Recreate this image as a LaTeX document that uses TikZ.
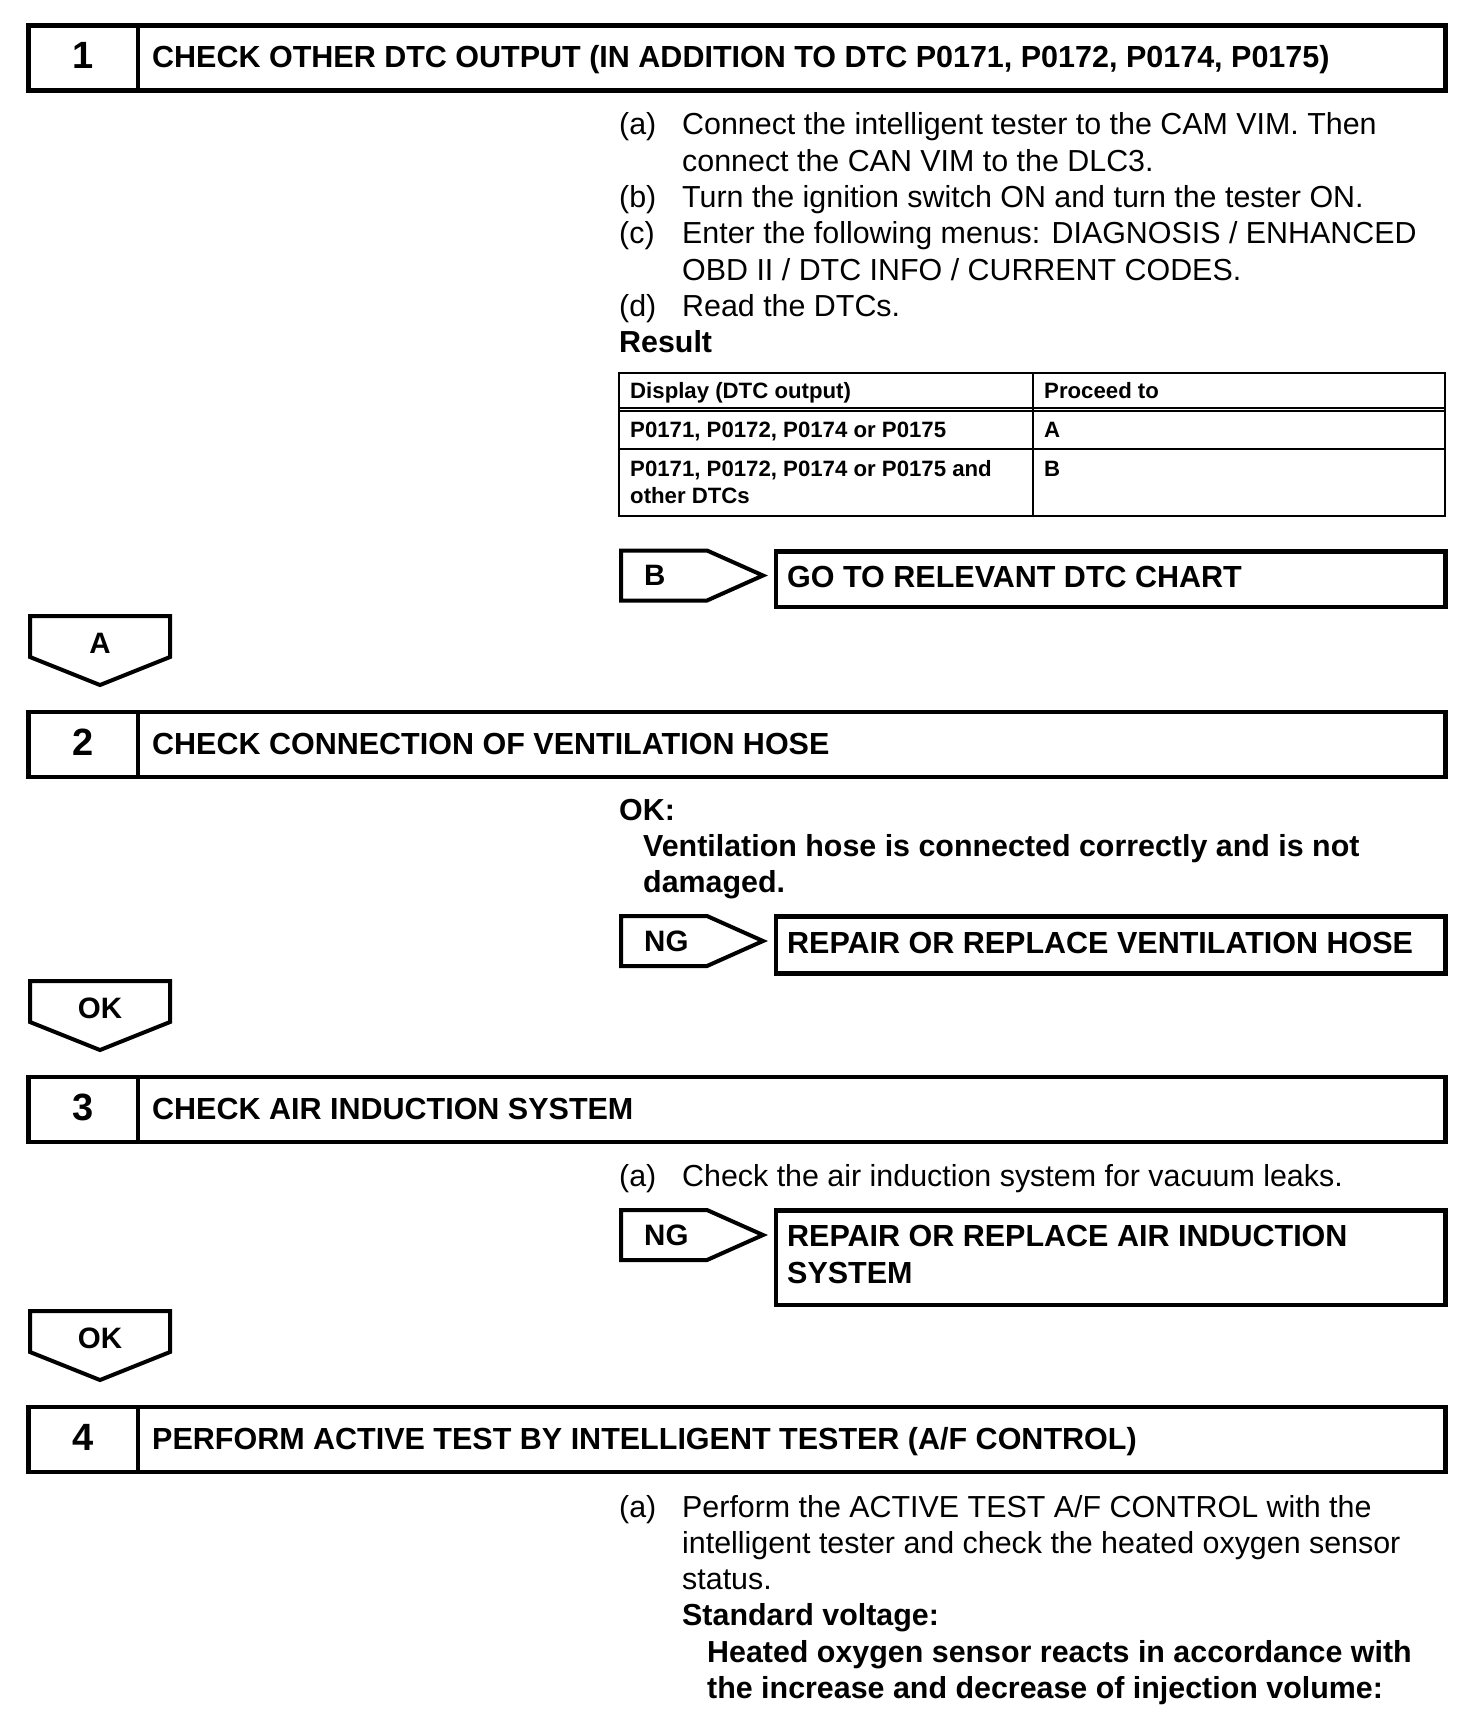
\documentclass[tikz,border=0pt]{standalone}
\usepackage{fontspec}
\setmainfont{Liberation Sans}
\tikzset{
  frame/.style={draw, line width=4.5pt, line join=miter},
  tagshape/.style={draw, line width=4pt, line join=miter},
  tbl/.style={draw, line width=2pt},
  hnum/.style={font=\fontsize{38}{40}\selectfont\bfseries, anchor=base, inner sep=0pt},
  htext/.style={font=\fontsize{30.5}{36}\selectfont\bfseries, anchor=base west, inner sep=0pt},
  body/.style={font=\fontsize{30.4}{36.3}\selectfont, anchor=base west, inner sep=0pt},
  bodyb/.style={font=\fontsize{30.4}{36.3}\selectfont\bfseries, anchor=base west, inner sep=0pt},
  tagtext/.style={font=\fontsize{29.5}{32}\selectfont\bfseries, inner sep=0pt},
  tbltext/.style={font=\fontsize{22.2}{27}\selectfont\bfseries, anchor=base west, inner sep=0pt},
}
\begin{document}
\begin{tikzpicture}[x=1pt,y=-1pt]
\useasboundingbox (0,0) rectangle (1472,1734);
\fill[white] (0,0) rectangle (1472,1734);

% ---------- step headers ----------
\foreach \yy/\nn/\tt in {25.5/1/{CHECK OTHER DTC OUTPUT (IN ADDITION TO DTC P0171, P0172, P0174, P0175)},
                         712/2/{CHECK CONNECTION OF VENTILATION HOSE},
                         1077/3/{CHECK AIR INDUCTION SYSTEM},
                         1407/4/{PERFORM ACTIVE TEST BY INTELLIGENT TESTER (A/F CONTROL)}}{
  \draw[frame] (28.5,\yy) rectangle (1445.5,\yy+65);
  \draw[frame] (138,\yy) -- (138,\yy+65);
  \node[hnum] (num\nn) at (83.25,\yy+43) {\nn};
  \node[htext] (title\nn) at (152,\yy+42) {\tt};
}

% ---------- down tags (A / OK) ----------
\foreach \yy/\ll/\ii in {616/A/1, 981/OK/2, 1311/OK/3}{
  \draw[tagshape] (30,\yy) -- (170,\yy) -- (170,\yy+41) -- (100,\yy+69) -- (30,\yy+41) -- cycle;
  \node[tagtext, anchor=base] (down\ii) at (100,\yy+37.5) {\ll};
}

% ---------- side tags (B / NG) ----------
\foreach \yy/\ll/\ii in {550.5/B/1, 916/NG/2, 1210/NG/3}{
  \draw[tagshape] (621,\yy) -- (707,\yy) -- (763,\yy+25) -- (707,\yy+50) -- (621,\yy+50) -- cycle;
  \node[tagtext, anchor=base west] (side\ii) at (644,\yy+35) {\ll};
}

% ---------- result boxes ----------
\draw[frame] (776,551.5) rectangle (1445.5,607);
\node[htext] (res1) at (787,587) {GO TO RELEVANT DTC CHART};
\draw[frame] (776,916.5) rectangle (1445.5,973.5);
\node[htext] (res2) at (787,953) {REPAIR OR REPLACE VENTILATION HOSE};
\draw[frame] (776,1210.5) rectangle (1445.5,1305);
\node[htext] (res3a) at (787,1246) {REPAIR OR REPLACE AIR INDUCTION};
\node[htext] (res3b) at (787,1283) {SYSTEM};

% ---------- step 1 text ----------
\node[body] (s1a) at (619,135) {(a)};
\node[body] (s1a1) at (682,135) {Connect the intelligent tester to the CAM VIM. Then};
\node[body] (s1a2) at (682,171.3) {connect the CAN VIM to the DLC3.};
\node[body] (s1b) at (619,207.6) {(b)};
\node[body] (s1b1) at (682,207.6) {Turn the ignition switch ON and turn the tester ON.};
\node[body] (s1c) at (619,243.9) {(c)};
\node[body] (s1c1) at (682,243.9) {Enter the following menus: DIAGNOSIS / ENHANCED};
\node[body] (s1c2) at (682,280.2) {OBD II / DTC INFO / CURRENT CODES.};
\node[body] (s1d) at (619,316.5) {(d)};
\node[body] (s1d1) at (682,316.5) {Read the DTCs.};
\node[bodyb] (s1r) at (619,352.4) {Result};

% ---------- table ----------
\draw[tbl] (619,373) rectangle (1445,516);
\draw[tbl] (619,407.5) -- (1445,407.5);
\draw[tbl] (619,411.3) -- (1445,411.3);
\draw[tbl] (619,449) -- (1445,449);
\draw[tbl] (1033,373) -- (1033,516);
\node[tbltext] (t11) at (630,398) {Display (DTC output)};
\node[tbltext] (t12) at (1044,398) {Proceed to};
\node[tbltext] (t21) at (630,437) {P0171, P0172, P0174 or P0175};
\node[tbltext] (t22) at (1044,437) {A};
\node[tbltext] (t31) at (630,476) {P0171, P0172, P0174 or P0175 and};
\node[tbltext] (t31b) at (630,503.5) {other DTCs};
\node[tbltext] (t32) at (1044,476) {B};

% ---------- step 2 text ----------
\node[bodyb] (s2ok) at (619,820) {OK:};
\node[bodyb] (s2l1) at (643,856.5) {Ventilation hose is connected correctly and is not};
\node[bodyb] (s2l2) at (643,892.8) {damaged.};

% ---------- step 3 text ----------
\node[body] (s3a) at (619,1186) {(a)};
\node[body] (s3a1) at (682,1186) {Check the air induction system for vacuum leaks.};

% ---------- step 4 text ----------
\node[body] (s4a) at (619,1517) {(a)};
\node[body] (s4a1) at (682,1517) {Perform the ACTIVE TEST A/F CONTROL with the};
\node[body] (s4a2) at (682,1553.3) {intelligent tester and check the heated oxygen sensor};
\node[body] (s4a3) at (682,1589.6) {status.};
\node[bodyb] (s4sv) at (682,1625.9) {Standard voltage:};
\node[bodyb] (s4h1) at (707,1662.2) {Heated oxygen sensor reacts in accordance with};
\node[bodyb] (s4h2) at (707,1698.5) {the increase and decrease of injection volume:};
\end{tikzpicture}
\end{document}
